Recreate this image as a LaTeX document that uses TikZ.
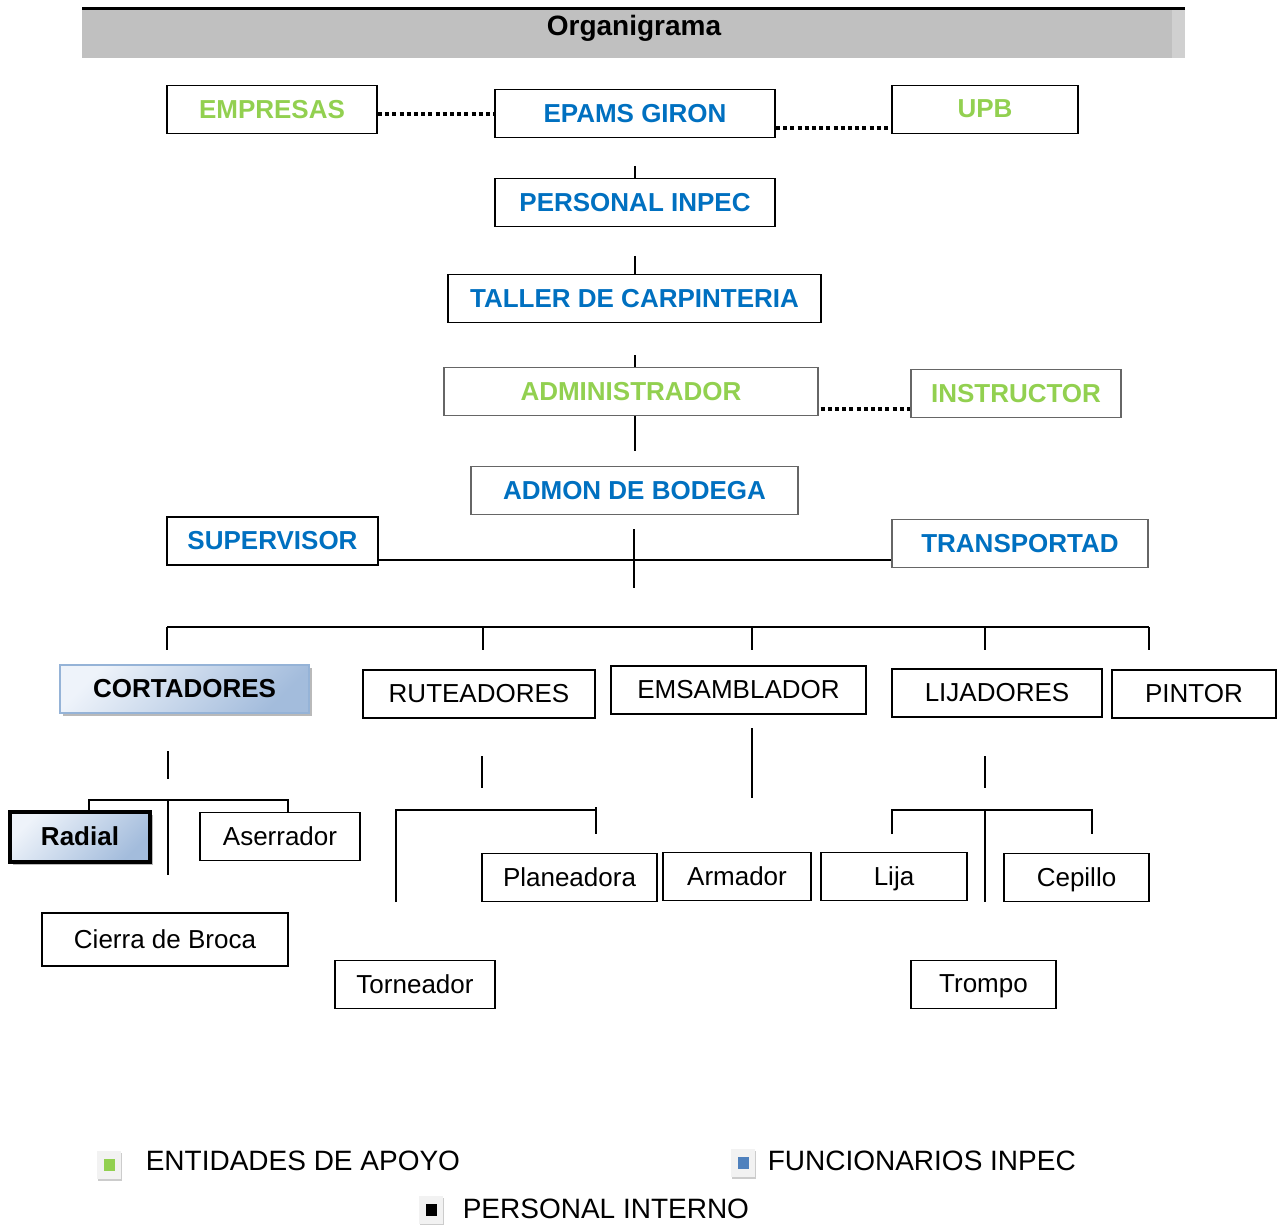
\documentclass[tikz,border=0pt]{standalone}
\usepackage{fontspec}
\setmainfont{Liberation Sans}
\usetikzlibrary{positioning,shadows}
\definecolor{apoyo}{HTML}{92D050}
\definecolor{inpec}{HTML}{0070C0}
\definecolor{barra}{HTML}{C0C0C0}
\definecolor{azulclaro}{HTML}{EEF3FA}
\definecolor{azuloscuro}{HTML}{A3BCDC}
\definecolor{bordeazul}{HTML}{95B3D7}
\definecolor{azulicono}{HTML}{4F81BD}
\tikzset{every picture/.style={line width=0.75pt}}
\tikzset{
  caja/.style={draw, line width=0.9pt, inner sep=0pt, minimum height=24pt,
    text depth=0.5pt, font=\fontsize{13}{15}\selectfont},
  apoyobox/.style={caja, text=apoyo, font=\bfseries\fontsize{13}{15}\selectfont},
  inpecbox/.style={caja, text=inpec, font=\bfseries\fontsize{13}{15}\selectfont},
  internobox/.style={caja},
  degradado/.style={top color=azulclaro, bottom color=azuloscuro, shading angle=45,
    drop shadow={shadow xshift=1.5pt, shadow yshift=-1.5pt, fill=gray!55, opacity=1},
    font=\bfseries\fontsize{13}{15}\selectfont},
  punteado/.style={line width=2pt, dash pattern=on 2pt off 1.6pt},
  icono/.style={fill=gray!10, minimum width=12pt, minimum height=14pt, inner sep=0pt,
    drop shadow={shadow xshift=0.6pt, shadow yshift=-0.8pt, fill=gray!40, opacity=1}},
  cuadro/.style={minimum width=5.5pt, minimum height=6pt, inner sep=0pt},
  leyenda/.style={anchor=west, inner sep=0pt, font=\fontsize{14}{16}\selectfont}
}

\begin{document}
\begin{tikzpicture}[x=0.5pt, y=-0.5pt]
        \useasboundingbox (0,0) rectangle (1284,1225);
        % titulo
        \fill[barra] (82,10) rectangle (1185,58);
        \fill[barra!75!white] (1172,10) rectangle (1185,58);
        \draw[line width=1.5pt] (82,9) -- (1185,9);
        \node[font=\bfseries\fontsize{14}{16}\selectfont] (titulo) at (634,28) {Organigrama};

        % niveles superiores
        \node[apoyobox, minimum width=105pt] (empresas) at (272,109.5) {EMPRESAS};
        \node[inpecbox, minimum width=140pt] (epams) at (635,113.5) {EPAMS GIRON};
        \node[apoyobox, minimum width=93pt] (upb) at (985,109.5) {UPB};
        \node[inpecbox, minimum width=140pt] (pinpec) at (635,202.5) {PERSONAL INPEC};
        \node[inpecbox, minimum width=186.5pt] (taller) at (634.5,298.5) {TALLER DE CARPINTERIA};
        \node[apoyobox, draw=gray!80!black, line width=0.6pt, minimum width=187pt] (admin) at (631,391.5) {ADMINISTRADOR};
        \node[apoyobox, draw=gray!80!black, line width=0.6pt, minimum width=105pt] (instructor) at (1016,393.5) {INSTRUCTOR};
        \node[inpecbox, draw=gray!80!black, line width=0.6pt, minimum width=163.5pt] (bodega) at (634.5,490.5) {ADMON DE BODEGA};
        \node[inpecbox, minimum width=105.5pt] (supervisor) at (272.5,541) {SUPERVISOR};
        \node[inpecbox, draw=gray!80!black, line width=0.6pt, minimum width=128pt] (transp) at (1020,543.5) {TRANSPORTAD};

        % secciones
        \node[caja, degradado, draw=bordeazul, line width=1pt, minimum width=124.5pt] (cortadores) at (184.5,688.5) {CORTADORES};
        \node[internobox, minimum width=116pt] (ruteadores) at (479,694) {RUTEADORES};
        \node[internobox, minimum width=127.5pt] (emsamblador) at (738.5,690) {EMSAMBLADOR};
        \node[internobox, minimum width=105pt] (lijadores) at (997,693) {LIJADORES};
        \node[internobox, minimum width=82pt] (pintor) at (1194,694) {PINTOR};

        % maquinas
        \node[caja, degradado, line width=2pt, minimum width=70pt, minimum height=25pt] (radial) at (80,837) {Radial};
        \node[internobox, minimum width=80pt] (aserrador) at (280,836.5) {Aserrador};
        \node[internobox, minimum width=123pt, minimum height=26.5pt] (broca) at (165,939.5) {Cierra de Broca};
        \node[internobox, minimum width=87.5pt] (planeadora) at (569.5,877.5) {Planeadora};
        \node[internobox, minimum width=74pt] (armador) at (737,876.5) {Armador};
        \node[internobox, minimum width=73pt] (lija) at (894,876.5) {Lija};
        \node[internobox, minimum width=72.5pt] (cepillo) at (1076.5,877.5) {Cepillo};
        \node[internobox, minimum width=80pt] (torneador) at (415,984.5) {Torneador};
        \node[internobox, minimum width=72.5pt] (trompo) at (983.5,984.5) {Trompo};

        % lineas de apoyo
        \draw[punteado] ([yshift=-2.25pt]empresas.east) coordinate (p1) -- (p1 -| epams.west);
        \draw[punteado] ([yshift=-7.25pt]epams.east) coordinate (p2) -- (p2 -| upb.west);
        \draw[punteado] ([shift={(1pt,-8.75pt)}]admin.east) coordinate (p3) -- (p3 -| instructor.west);

        % lineas de mando
        \coordinate (c1) at (635,166);
        \coordinate (c2) at (635,256);
        \coordinate (c3) at (635,355);
        \coordinate (c4) at (635,451);
        \coordinate (c5) at (634,529);
        \coordinate (c6) at (634,588);
        \draw (c1) -- (pinpec.north);
        \draw (c2) -- (c2 |- taller.north);
        \draw (c3) -- (c3 |- admin.north);
        \draw (c4 |- admin.south) -- (c4);
        \draw (c5) -- (c6);
        \draw ([yshift=-9.5pt]supervisor.east) coordinate (s1) -- (s1 -| transp.west);

        % barra de secciones
        \coordinate (bi) at (167,627);
        \coordinate (bd) at (1149,627);
        \draw (bi) -- (bd);
        \foreach \x [count=\i] in {167,483,752,985,1149} {
          \coordinate (d\i) at (\x,627);
          \draw (d\i) -- ++(0,23);
        }

        % cortadores
        \coordinate (k1) at (168,751);
        \coordinate (k2) at (168,779);
        \coordinate (k3) at (89,800);
        \coordinate (k4) at (288,800);
        \coordinate (k5) at (168,875);
        \draw (k1) -- (k2);
        \draw (k3 |- radial.north) -- (k3) -- (k4) -- (k4 |- aserrador.north);
        \draw (k3 -| k1) -- (k5);

        % ruteadores
        \coordinate (r1) at (482,756);
        \coordinate (r2) at (482,788);
        \coordinate (r3) at (396,902);
        \coordinate (r4) at (596,807);
        \coordinate (r5) at (596,834);
        \draw (r1) -- (r2);
        \draw (r3) |- (r4 |- 0,810);
        \draw (r4) -- (r5);

        % emsamblador
        \coordinate (e1) at (752,728);
        \coordinate (e2) at (752,798);
        \draw (e1) -- (e2);

        % lijadores
        \coordinate (l1) at (985,756);
        \coordinate (l2) at (985,788);
        \coordinate (l3) at (892,834);
        \coordinate (l4) at (1092,810);
        \coordinate (l5) at (1092,834);
        \coordinate (l6) at (985,902);
        \draw (l1) -- (l2);
        \draw (l3) |- (l4) -- (l5);
        \draw (l6 |- l4) -- (l6);

        % leyenda
        \node[icono] (ic1) at (109,1165) {};
        \node[cuadro, fill=apoyo] at (ic1) {};
        \node[leyenda] (ley1) at (145,1161) {ENTIDADES DE APOYO};
        \node[icono] (ic2) at (743,1163) {};
        \node[cuadro, fill=azulicono] at (ic2) {};
        \node[leyenda] (ley2) at (767,1161) {FUNCIONARIOS INPEC};
        \node[icono] (ic3) at (431,1210) {};
        \node[cuadro, fill=black] at (ic3) {};
        \node[leyenda] (ley3) at (462,1209) {PERSONAL INTERNO};
    \end{tikzpicture}
\end{document}
